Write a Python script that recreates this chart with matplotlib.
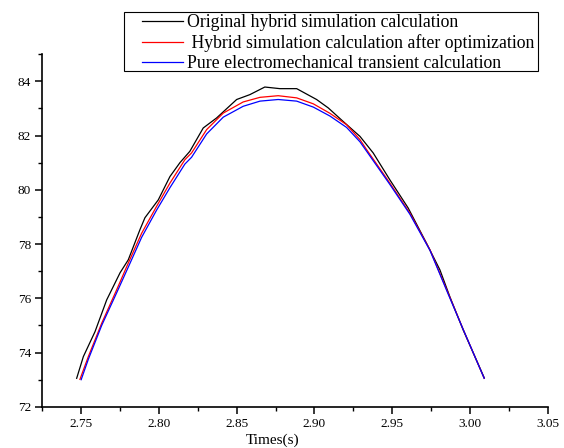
import matplotlib
matplotlib.use('Agg')
import matplotlib.pyplot as plt
import matplotlib.patches as patches
from matplotlib.ticker import MultipleLocator, FormatStrFormatter

plt.rcParams['font.family'] = ['Liberation Serif', 'DejaVu Serif']

# Original hybrid simulation calculation (black)
t_orig = [2.7471, 2.7514, 2.7589, 2.7664, 2.7750, 2.7803, 2.7878, 2.7910, 2.7996,
          2.8071, 2.8135, 2.8199, 2.8285, 2.8371, 2.8500, 2.8585, 2.8681, 2.8778,
          2.8886, 2.9014, 2.9089, 2.9185, 2.9293, 2.9378, 2.9485, 2.9603, 2.9721,
          2.9807, 2.9871, 2.9957, 3.0092]
v_orig = [73.05, 73.85, 74.77, 75.94, 76.94, 77.42, 78.53, 78.97, 79.63,
          80.49, 81.00, 81.42, 82.28, 82.65, 83.33, 83.51, 83.79, 83.73,
          83.73, 83.33, 83.02, 82.52, 81.97, 81.36, 80.37, 79.33, 78.03,
          77.05, 76.06, 74.83, 73.07]

# Hybrid simulation calculation after optimization (red)
t_opt = [2.7492, 2.7546, 2.7632, 2.7728, 2.7803, 2.7889, 2.7985, 2.8071, 2.8167,
         2.8210, 2.8307, 2.8414, 2.8542, 2.8650, 2.8767, 2.8886, 2.8993, 2.9100,
         2.9207, 2.9293, 2.9336, 2.9485, 2.9614, 2.9743, 2.9860, 2.9957, 3.0092]
v_opt = [73.01, 73.85, 75.08, 76.31, 77.30, 78.40, 79.39, 80.25, 81.11,
         81.36, 82.22, 82.83, 83.24, 83.41, 83.47, 83.39, 83.17, 82.82,
         82.40, 81.85, 81.48, 80.25, 79.14, 77.79, 76.19, 74.85, 73.05]

# Pure electromechanical transient calculation (blue)
t_pure = [2.7500, 2.7546, 2.7632, 2.7728, 2.7803, 2.7889, 2.7985, 2.8071, 2.8167,
          2.8210, 2.8307, 2.8414, 2.8542, 2.8650, 2.8767, 2.8886, 2.8993, 2.9100,
          2.9207, 2.9293, 2.9336, 2.9485, 2.9614, 2.9743, 2.9860, 2.9957, 3.0092]
v_pure = [73.00, 73.75, 75.00, 76.20, 77.15, 78.25, 79.25, 80.08, 80.95,
          81.20, 82.06, 82.68, 83.08, 83.27, 83.33, 83.27, 83.05, 82.72,
          82.30, 81.77, 81.42, 80.20, 79.10, 77.77, 76.16, 74.85, 73.05]

labels = ['Original hybrid simulation calculation',
          ' Hybrid simulation calculation after optimization',
          'Pure electromechanical transient calculation']

fig = plt.figure(figsize=(5.64, 4.48), dpi=100)
ax = fig.add_axes([0.075, 0.092, 0.896, 0.787])

ax.plot(t_orig, v_orig, color='black', lw=0.9, label=labels[0])
ax.plot(t_opt, v_opt, color='red', lw=0.9, label=labels[1])
ax.plot(t_pure, v_pure, color='blue', lw=0.9, label=labels[2])

ax.set_xlim(2.725, 3.05)
ax.set_ylim(72, 85)
ax.xaxis.set_major_locator(MultipleLocator(0.05))
ax.xaxis.set_minor_locator(MultipleLocator(0.025))
ax.yaxis.set_major_locator(MultipleLocator(2))
ax.yaxis.set_minor_locator(MultipleLocator(1))
ax.xaxis.set_major_formatter(FormatStrFormatter('%.2f'))

for s in ['top', 'right']:
    ax.spines[s].set_visible(False)
for s in ['left', 'bottom']:
    ax.spines[s].set_linewidth(1.2)

ax.tick_params(which='major', direction='out', length=5, width=1.1, labelsize=9.5, pad=3)
ax.tick_params(which='minor', direction='out', length=3, width=1.0)
ax.set_xlabel('Times(s)', fontsize=11, labelpad=1)
ax.xaxis.set_label_coords(0.455, -0.075)

# legend frame drawn by hand so the padding can be asymmetric
box = patches.Rectangle((0.2199, 0.842), 0.734, 0.1317, transform=fig.transFigure,
                        facecolor='white', edgecolor='black', linewidth=0.8, zorder=5)
fig.patches.append(box)
leg = fig.legend(loc='upper left', bbox_to_anchor=(0.2512, 0.968), borderaxespad=0,
                 fontsize=12.8, frameon=False, handlelength=2.3,
                 handletextpad=0.25, labelspacing=0.17, borderpad=0)
leg.set_zorder(6)

fig.savefig('out.png', dpi=100)
